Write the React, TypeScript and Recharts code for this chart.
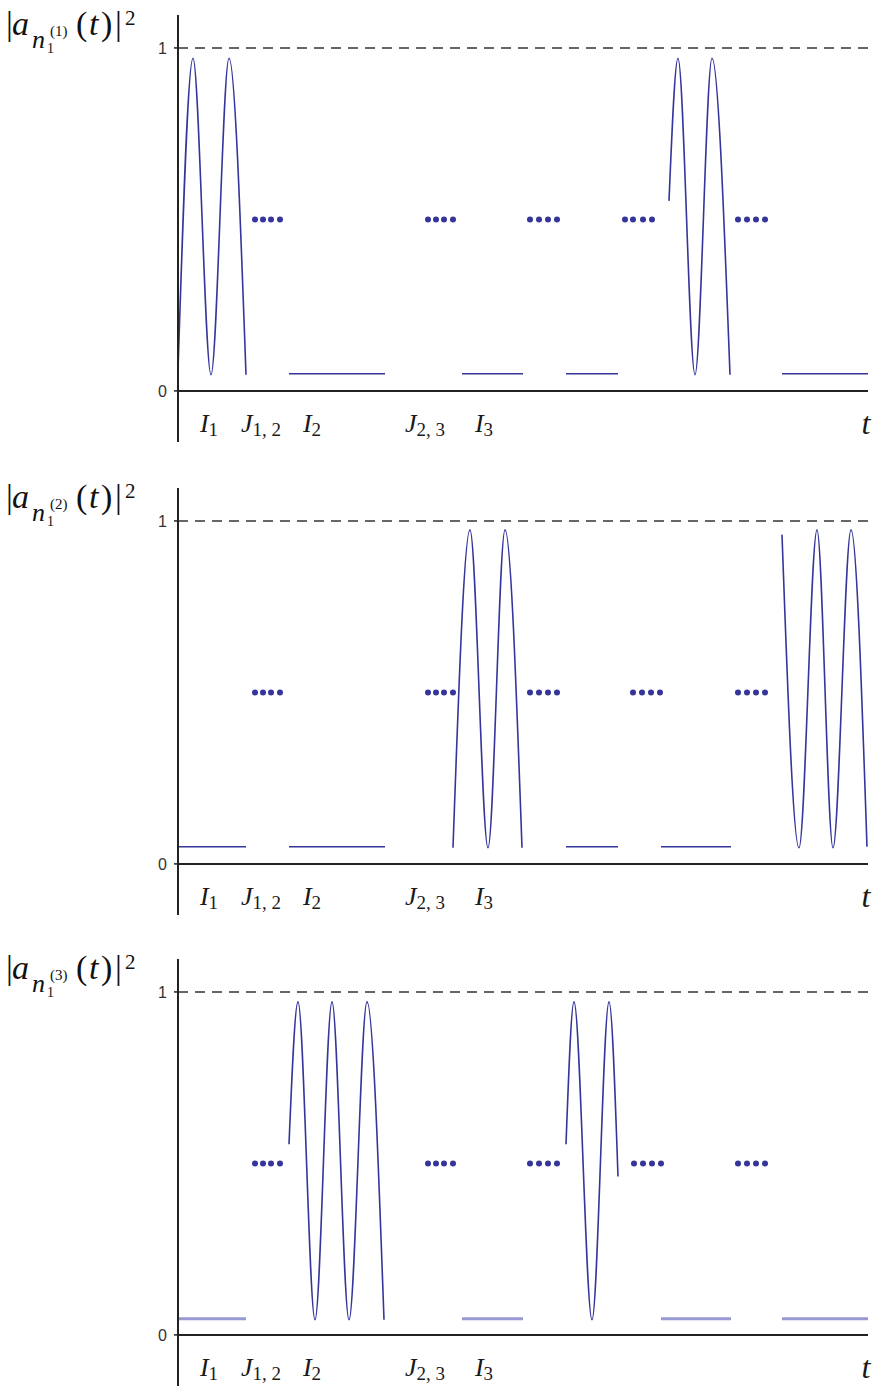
import React from 'react';
import { ComposedChart, Line, Scatter, XAxis, YAxis, ReferenceLine, Label } from 'recharts';

// ---- axis setup (t in arbitrary units, |a|^2 in [0,1]) ----
const T_DOMAIN: [number, number] = [0, 69];
const V_DOMAIN: [number, number] = [-0.149, 1.096];
const V_TICKS = [0, 1];
const T_TICKS = [3.1, 8.3, 13.4, 24.7, 30.6];
const T_LETTERS = ['I', 'J', 'I', 'J', 'I'];
const T_SUBS = ['1', '1, 2', '2', '2, 3', '3'];
const DOT_LEVEL = 0.5;

// ---- panel 1 : n1^(1) ----
const P1_WAVES: number[][][] = [
  [[0, 0.06], [1.5, 0.97], [3.3, 0.047], [5.1, 0.97], [6.8, 0.047]],
  [[49.1, 0.554], [50.0, 0.97], [51.7, 0.047], [53.4, 0.97], [55.2, 0.047]],
];
const P1_FLATS: number[][] = [[11.1, 20.7], [28.4, 34.5], [38.8, 44.0], [60.4, 69.0]];
const P1_FLAT_LEVEL = 0.05;
const P1_DOTS = [7.7, 8.5, 9.3, 10.2, 25.0, 25.8, 26.6, 27.5, 35.2, 36.1, 37.0, 37.9, 44.7, 45.5, 46.5, 47.4, 56.0, 56.9, 57.8, 58.7];

// ---- panel 2 : n1^(2) ----
const P2_WAVES: number[][][] = [
  [[27.5, 0.047], [29.2, 0.974], [31.0, 0.047], [32.7, 0.974], [34.4, 0.047]],
  [[60.4, 0.96], [62.1, 0.047], [63.9, 0.974], [65.5, 0.047], [67.3, 0.974], [68.9, 0.05]],
];
const P2_FLATS: number[][] = [[0, 6.8], [11.1, 20.7], [38.8, 44.0], [48.3, 55.3]];
const P2_FLAT_LEVEL = 0.05;
const P2_DOTS = [7.7, 8.5, 9.3, 10.2, 25.0, 25.8, 26.6, 27.5, 35.2, 36.1, 37.0, 37.9, 45.5, 46.4, 47.3, 48.2, 56.0, 56.9, 57.8, 58.7];

// ---- panel 3 : n1^(3) ----
const P3_WAVES: number[][][] = [
  [[11.1, 0.556], [12.0, 0.971], [13.7, 0.044], [15.4, 0.971], [17.1, 0.044], [18.9, 0.971], [20.6, 0.044]],
  [[38.8, 0.556], [39.6, 0.971], [41.4, 0.044], [43.1, 0.971], [44.0, 0.462]],
];
const P3_FLATS: number[][] = [[0, 6.8], [28.4, 34.5], [48.3, 55.3], [60.4, 69.0]];
const P3_FLAT_LEVEL = 0.047;
const P3_DOTS = [7.7, 8.5, 9.3, 10.2, 25.0, 25.8, 26.6, 27.5, 35.2, 36.1, 37.0, 37.9, 45.6, 46.5, 47.4, 48.3, 56.0, 56.9, 57.8, 58.7];

const LINE_COLOR = '#35359c';
const SERIF = "'Liberation Serif', 'DejaVu Serif', serif";
const SERIF_STYLE = { fontFamily: SERIF };

const renderTick = (props: any) => {
  const { x, y, index } = props;
  return (
    <g>
      <text x={x} y={y - 10} textAnchor="middle" style={SERIF_STYLE} fill="#1a1a1a">
        <tspan fontSize={26} fontStyle="italic">{T_LETTERS[index]}</tspan>
        <tspan fontSize={19} dy={4}>{T_SUBS[index]}</tspan>
      </text>
    </g>
  );
};

const dotShape = (props: any) => <circle cx={props.cx} cy={props.cy} r={3} fill={LINE_COLOR} />;

function Panel({ top, waves, flats, flatLevel, dots, flatColor, flatWidth, sup }: any) {
  const waveData = waves.map((w: number[][]) => w.map(([t, v]) => ({ t, v })));
  const flatData = flats.map(([a, b]: number[]) => [{ t: a, v: flatLevel }, { t: b, v: flatLevel }]);
  const dotData = dots.map((t: number) => ({ t, v: DOT_LEVEL }));
  return (
    <div style={{ position: 'absolute', left: 0, top }}>
      <ComposedChart width={877} height={460} margin={{ top: 15, right: 9, bottom: 0, left: 0 }}>
        <XAxis
          type="number"
          dataKey="t"
          domain={T_DOMAIN}
          ticks={T_TICKS}
          interval={0}
          height={18}
          axisLine={false}
          tickLine={false}
          tickSize={0}
          tickMargin={0}
          tick={renderTick}
          allowDataOverflow
        >
          <Label
            content={(p: any) => {
              const vb = p.viewBox || { x: 178, y: 442, width: 690 };
              return (
                <text x={vb.x + vb.width - 2} y={vb.y - 8} textAnchor="middle" style={SERIF_STYLE} fontStyle="italic" fontSize={32} fill="#1a1a1a">t</text>
              );
            }}
          />
        </XAxis>
        <YAxis
          type="number"
          domain={V_DOMAIN}
          ticks={V_TICKS}
          width={178}
          axisLine={{ stroke: '#222', strokeWidth: 2 }}
          tickLine={{ stroke: '#222', strokeWidth: 1.5 }}
          tickSize={4}
          tickMargin={7}
          tick={{ fill: '#333', fontSize: 16, fontFamily: "'Liberation Sans', Arial, sans-serif" }}
          allowDataOverflow
        >
          <Label
            content={(p: any) => {
              const vb = p.viewBox || { x: 0, y: 15 };
              const bx = vb.x;
              const by = vb.y + 20;
              return (
                <text style={SERIF_STYLE} fill="#111">
                  <tspan x={bx + 6} y={by} fontSize={34}>|</tspan>
                  <tspan x={bx + 12} y={by} fontSize={34} fontStyle="italic">a</tspan>
                  <tspan x={bx + 32} y={by + 13} fontSize={26} fontStyle="italic">n</tspan>
                  <tspan x={bx + 50} y={by + 1} fontSize={15}>{'(' + sup + ')'}</tspan>
                  <tspan x={bx + 47} y={by + 18} fontSize={14}>1</tspan>
                  <tspan x={bx + 76} y={by} fontSize={34}>(</tspan>
                  <tspan x={bx + 89} y={by} fontSize={34} fontStyle="italic">t</tspan>
                  <tspan x={bx + 101} y={by} fontSize={34}>)</tspan>
                  <tspan x={bx + 115} y={by} fontSize={34}>|</tspan>
                  <tspan x={bx + 125} y={by - 10} fontSize={21}>2</tspan>
                </text>
              );
            }}
          />
        </YAxis>
        <ReferenceLine y={1} stroke="#666" strokeWidth={2} strokeDasharray="10 7" ifOverflow="visible" />
        <ReferenceLine y={0} stroke="#222" strokeWidth={2} ifOverflow="visible" />
        {flatData.map((d: any, i: number) => (
          <Line key={'f' + i} data={d} dataKey="v" type="linear" stroke={flatColor} strokeWidth={flatWidth} dot={false} activeDot={false} isAnimationActive={false} />
        ))}
        {waveData.map((d: any, i: number) => (
          <Line key={'w' + i} data={d} dataKey="v" type="monotone" stroke={LINE_COLOR} strokeWidth={1.6} dot={false} activeDot={false} isAnimationActive={false} />
        ))}
        <Scatter data={dotData} dataKey="v" shape={dotShape} isAnimationActive={false} />
      </ComposedChart>
    </div>
  );
}

export default function App() {
  return (
    <div style={{ position: 'absolute', left: 0, top: 0, width: 877, height: 1386, overflow: 'hidden', background: '#fff' }}>
      <Panel top={0} waves={P1_WAVES} flats={P1_FLATS} flatLevel={P1_FLAT_LEVEL} dots={P1_DOTS} flatColor={LINE_COLOR} flatWidth={1.6} sup="1" />
      <Panel top={473} waves={P2_WAVES} flats={P2_FLATS} flatLevel={P2_FLAT_LEVEL} dots={P2_DOTS} flatColor={LINE_COLOR} flatWidth={1.6} sup="2" />
      <Panel top={944} waves={P3_WAVES} flats={P3_FLATS} flatLevel={P3_FLAT_LEVEL} dots={P3_DOTS} flatColor="#9898d4" flatWidth={3} sup="3" />
    </div>
  );
}
